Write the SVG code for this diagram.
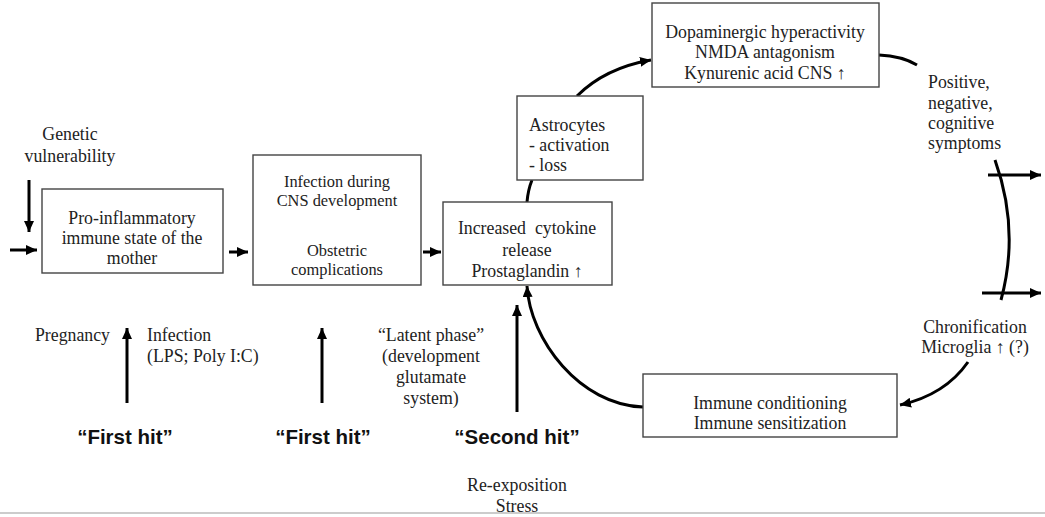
<svg xmlns="http://www.w3.org/2000/svg" width="1045" height="517" viewBox="0 0 1045 517">
<style>
.box{fill:#fff;stroke:#444;stroke-width:1.4}
.t{font-family:"Liberation Serif","Times New Roman",serif;font-size:17.8px;fill:#222}
.m{text-anchor:middle}
.s15{font-size:16.4px}
.h{font-family:"Liberation Sans",Arial,sans-serif;font-weight:bold;font-size:20.5px;fill:#111;text-anchor:middle}
.c{fill:none;stroke:#000;stroke-width:3}
</style>
<defs>
<marker id="ah" markerUnits="userSpaceOnUse" markerWidth="12" markerHeight="10" refX="11" refY="5" orient="auto">
<path d="M0,0 L11,5 L0,10 Z" fill="#000"/>
</marker>
</defs>
<rect width="1045" height="517" fill="#fff"/>
<g id="connectors">
<path class="c" d="M29,180 L29,232" marker-end="url(#ah)"/>
<path class="c" d="M10,250 L37,250" marker-end="url(#ah)"/>
<path class="c" d="M229,252 L248,252" marker-end="url(#ah)"/>
<path class="c" d="M423,252 L441,252" marker-end="url(#ah)"/>
<path class="c" d="M527,202 Q528,190 532,180"/>
<path class="c" d="M577,96 Q605,68 651,60" marker-end="url(#ah)"/>
<path class="c" d="M879,55 Q902,56 917,65"/>
<path class="c" d="M995,160 Q1020,230 1001,300"/>
<path class="c" d="M988,175 L1041,175" marker-end="url(#ah)"/>
<path class="c" d="M982,293 L1041,293" marker-end="url(#ah)"/>
<path class="c" d="M968,362 Q945,395 900,405" marker-end="url(#ah)"/>
<path class="c" d="M643,407 C580,405 530,340 527,286" marker-end="url(#ah)"/>
<path class="c" d="M127,403 L127,328" marker-end="url(#ah)"/>
<path class="c" d="M322,403 L322,328" marker-end="url(#ah)"/>
<path class="c" d="M517,412 L517,305" marker-end="url(#ah)"/>
</g>
<g id="genetic">
<text class="t m" x="70" y="140">Genetic</text>
<text class="t m" x="70" y="162">vulnerability</text>
</g>
<g id="mother">
<rect class="box" x="42" y="189" width="181" height="84"/>
<text class="t m" x="132" y="224">Pro-inflammatory</text>
<text class="t m" x="132" y="244">immune state of the</text>
<text class="t m" x="132" y="264">mother</text>
</g>
<g id="infection">
<rect class="box" x="253" y="155" width="168" height="130"/>
<text class="t m s15" x="337" y="187">Infection during</text>
<text class="t m s15" x="337" y="206">CNS development</text>
<text class="t m s15" x="337" y="256">Obstetric</text>
<text class="t m s15" x="337" y="275">complications</text>
</g>
<g id="cytokine">
<rect class="box" x="443" y="202" width="169" height="83"/>
<text class="t m" x="527" y="234" xml:space="preserve">Increased  cytokine</text>
<text class="t m" x="527" y="256">release</text>
<text class="t m" x="527" y="277">Prostaglandin ↑</text>
</g>
<g id="astrocytes">
<rect class="box" x="517" y="96" width="126" height="84"/>
<text class="t" x="529" y="131">Astrocytes</text>
<text class="t" x="529" y="151">- activation</text>
<text class="t" x="529" y="171">- loss</text>
</g>
<g id="dopamine">
<rect class="box" x="652" y="3" width="227" height="84"/>
<text class="t m" x="765" y="38">Dopaminergic hyperactivity</text>
<text class="t m" x="765" y="58">NMDA antagonism</text>
<text class="t m" x="765" y="79">Kynurenic acid CNS ↑</text>
</g>
<g id="symptoms">
<text class="t" x="928" y="88">Positive,</text>
<text class="t" x="928" y="109">negative,</text>
<text class="t" x="928" y="129">cognitive</text>
<text class="t" x="928" y="149">symptoms</text>
</g>
<g id="chronification">
<text class="t m" x="975" y="333">Chronification</text>
<text class="t m" x="975" y="353">Microglia ↑ (?)</text>
</g>
<g id="immune">
<rect class="box" x="643" y="374" width="254" height="63"/>
<text class="t m" x="770" y="409">Immune conditioning</text>
<text class="t m" x="770" y="429">Immune sensitization</text>
</g>
<g id="labels">
<text class="t" x="110" y="341" text-anchor="end">Pregnancy</text>
<text class="t" x="147" y="341">Infection</text>
<text class="t" x="147" y="362">(LPS; Poly I:C)</text>
<text class="t m" x="431" y="341">“Latent phase”</text>
<text class="t m" x="431" y="362">(development</text>
<text class="t m" x="431" y="383">glutamate</text>
<text class="t m" x="431" y="404">system)</text>
<text class="h" x="125" y="444">“First hit”</text>
<text class="h" x="323" y="444">“First hit”</text>
<text class="h" x="517" y="444">“Second hit”</text>
<text class="t m" x="517" y="491">Re-exposition</text>
<text class="t m" x="517" y="512">Stress</text>
</g>
<line x1="0" y1="513" x2="1045" y2="513" stroke="#ccc" stroke-width="2"/>
</svg>
